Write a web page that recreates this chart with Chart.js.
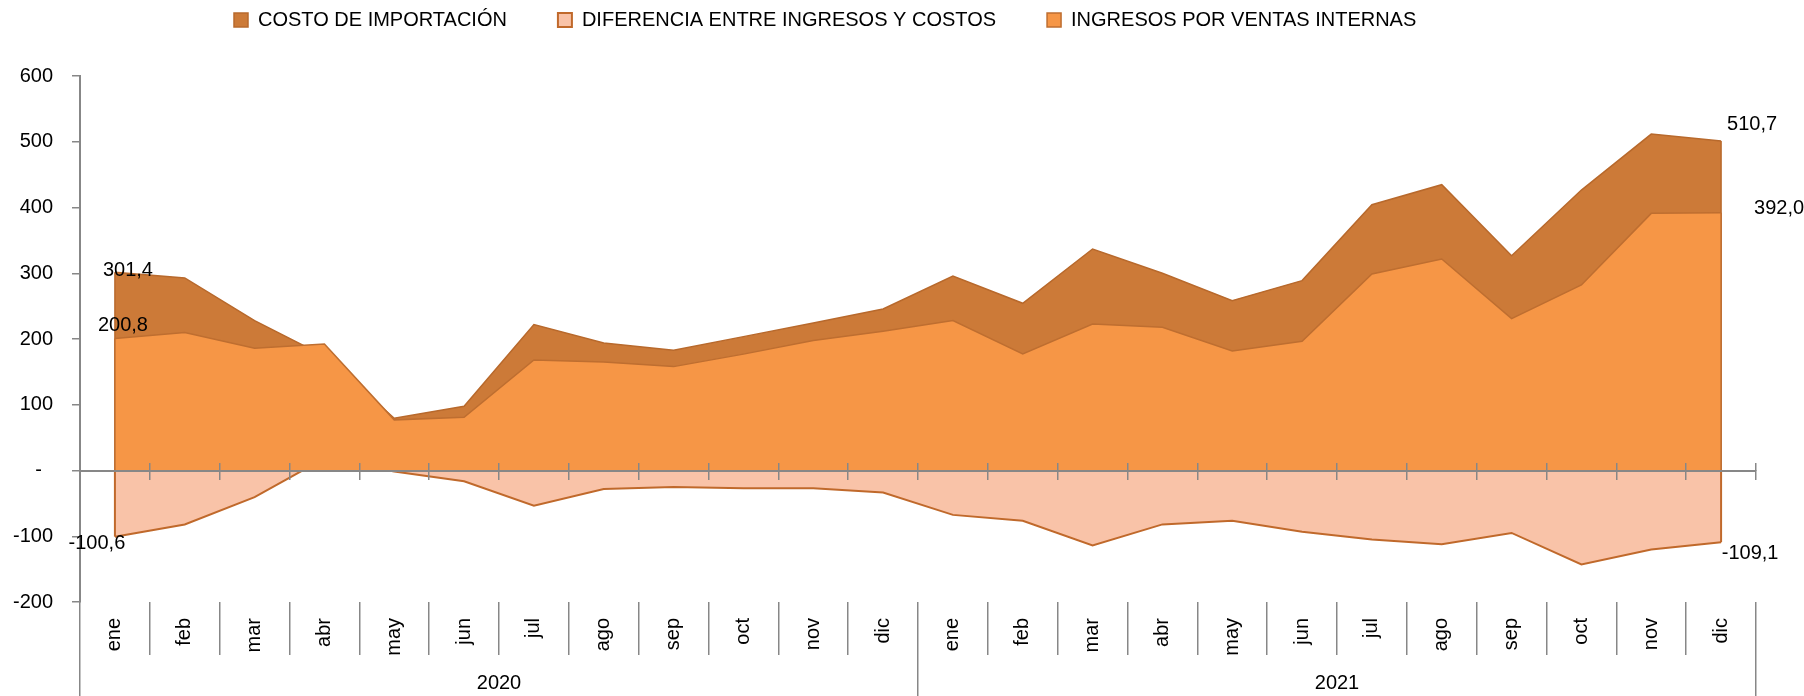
<!DOCTYPE html>
<html>
<head>
<meta charset="utf-8">
<script src="https://cdn.jsdelivr.net/npm/chart.js@4.4.1/dist/chart.umd.min.js"></script>
<style>
  html, body { margin: 0; padding: 0; background: #ffffff; }
  #wrap { width: 1804px; height: 696px; position: relative; }
  canvas { display: block; }
</style>
</head>
<body>
<div id="wrap"><canvas id="c" width="1804" height="696"></canvas></div>
<script>
// ---------- DATA ----------
const meses = ['ene','feb','mar','abr','may','jun','jul','ago','sep','oct','nov','dic'];
const categorias = meses.concat(meses);
const anios = ['2020', '2021'];

const costoImportacion = [301.4, 292.8, 228.0, 174.0, 79.5, 97.8, 222.0, 194.0, 183.0, 203.6, 224.4, 245.7,
                          295.8, 254.3, 336.9, 300.0, 258.4, 288.8, 404.3, 434.7, 326.7, 426.5, 511.7, 501.1];
const diferencia       = [-100.6, -82.0, -40.5, 18.5, -1.5, -16.5, -53.5, -28.0, -25.0, -27.0, -27.0, -33.5,
                          -67.5, -76.5, -114.0, -82.0, -76.5, -93.0, -105.0, -112.0, -95.0, -143.0, -120.0, -109.1];
const ingresosVentas   = [200.8, 209.7, 186.0, 192.5, 77.0, 81.0, 168.0, 165.0, 158.0, 177.0, 197.6, 211.8,
                          228.0, 177.3, 222.9, 217.8, 181.9, 196.6, 298.9, 321.7, 231.0, 282.2, 391.1, 392.0];

const seriesNombres = ['COSTO DE IMPORTACIÓN', 'DIFERENCIA ENTRE INGRESOS Y COSTOS', 'INGRESOS POR VENTAS INTERNAS'];
const etiquetasInicio = ['301,4', '-100,6', '200,8'];
const etiquetasFin    = ['510,7', '-109,1', '392,0'];

// ---------- STYLE ----------
const FONT = "'Liberation Sans', Arial, sans-serif";
const GRAY = '#878787';

const startOffsets = [[13, -2], [-18, 7], [8, -13]];
const endOffsets   = [[31, -17], [29, 11], [58, -4]];

const edgePlugin = {
  id: 'areaEdges',
  afterDatasetDraw(chart, args) {
    const meta = args.meta;
    const ds = chart.data.datasets[args.index];
    const pts = meta.data;
    if (!pts.length) return;
    const y0 = chart.scales.y.getPixelForValue(0);
    const ctx = chart.ctx;
    ctx.save();
    ctx.strokeStyle = ds.borderColor;
    ctx.lineWidth = ds.borderWidth;
    [pts[0], pts[pts.length - 1]].forEach(p => {
      ctx.beginPath();
      ctx.moveTo(p.x, y0);
      ctx.lineTo(p.x, p.y);
      ctx.stroke();
    });
    ctx.restore();
  }
};

const labelPlugin = {
  id: 'endLabels',
  afterDatasetsDraw(chart) {
    const ctx = chart.ctx;
    ctx.save();
    ctx.font = '20px ' + FONT;
    ctx.fillStyle = '#000';
    ctx.textAlign = 'center';
    ctx.textBaseline = 'middle';
    chart.data.datasets.forEach((ds, i) => {
      const pts = chart.getDatasetMeta(i).data;
      const a = pts[0], b = pts[pts.length - 1];
      ctx.fillText(etiquetasInicio[i], a.x + startOffsets[i][0], a.y + startOffsets[i][1]);
      ctx.fillText(etiquetasFin[i], b.x + endOffsets[i][0], b.y + endOffsets[i][1]);
    });
    ctx.restore();
  }
};

const legendPlacePlugin = {
  id: 'legendPlace',
  afterLayout(chart) {
    const lg = chart.legend;
    if (!lg) return;
    const w = lg.right - lg.left, h = lg.bottom - lg.top;
    lg.left = 183; lg.right = 183 + w;
    lg.top = -41; lg.bottom = lg.top + h;
  }
};

new Chart(document.getElementById('c'), {
  type: 'line',
  data: {
    labels: categorias,
    datasets: [
      {
        label: seriesNombres[0], data: costoImportacion, order: 2,
        backgroundColor: '#CC7A38', borderColor: '#B8692C', borderWidth: 1.5,
        fill: 'origin', pointRadius: 0, tension: 0
      },
      {
        label: seriesNombres[1], data: diferencia, order: 1,
        backgroundColor: '#F9C3A8', borderColor: '#C0692B', borderWidth: 2,
        fill: 'origin', pointRadius: 0, tension: 0
      },
      {
        label: seriesNombres[2], data: ingresosVentas, order: 0,
        backgroundColor: '#F69646', borderColor: '#BE6E30', borderWidth: 1.5,
        fill: 'origin', pointRadius: 0, tension: 0
      }
    ]
  },
  options: {
    responsive: false,
    animation: false,
    devicePixelRatio: 1,
    layout: { padding: { left: 0, right: 48, top: 0, bottom: 0 } },
    plugins: {
      tooltip: { enabled: false },
      legend: {
        display: true,
        position: 'top',
        align: 'start',
        maxHeight: 76,
        labels: {
          boxWidth: 14, boxHeight: 14, padding: 51,
          color: '#000',
          font: { family: FONT, size: 20 },
          sort: (a, b) => a.datasetIndex - b.datasetIndex
        }
      }
    },
    scales: {
      y: {
        type: 'linear', position: 'left',
        min: -200, max: 600,
        afterFit: s => { s.width = 80; },
        ticks: {
          stepSize: 100, color: '#000', padding: 19,
          font: { family: FONT, size: 20 },
          callback: v => (v === 0 ? '-  ' : String(v))
        },
        grid: { display: true, drawOnChartArea: false, drawTicks: true, tickLength: 8, color: GRAY, lineWidth: 1.5 },
        border: { display: true, color: GRAY, width: 2 }
      },
      x: {
        type: 'category', position: 'bottom', offset: true,
        afterFit: s => { s.height = 53; },
        ticks: {
          autoSkip: false, minRotation: 90, maxRotation: 90,
          color: '#000', padding: -37,
          font: { family: FONT, size: 20 }
        },
        grid: { display: true, offset: true, drawOnChartArea: false, drawTicks: true, tickLength: 53, color: GRAY, lineWidth: 1.5 },
        border: { display: false }
      },
      x2: {
        type: 'category', position: 'bottom', offset: true, labels: anios,
        afterFit: s => { s.height = 41; },
        ticks: { color: '#000', padding: -25, font: { family: FONT, size: 20 } },
        grid: { display: true, offset: true, drawOnChartArea: false, drawTicks: true, tickLength: 41, color: GRAY, lineWidth: 1.5 },
        border: { display: false }
      },
      xz: {
        type: 'category', position: { y: 0 }, offset: true,
        ticks: { display: false },
        grid: { display: true, z: 1, offset: true, drawOnChartArea: false, drawTicks: true, tickLength: 8, color: GRAY, lineWidth: 1.5 },
        border: { display: true, z: 1, color: GRAY, width: 2 }
      },
      xzUp: {
        type: 'category', position: { y: 0 }, offset: true,
        ticks: { display: false },
        grid: { display: true, z: 1, offset: true, drawOnChartArea: false, drawTicks: true, tickLength: -8, color: GRAY, lineWidth: 1.5 },
        border: { display: false }
      }
    }
  },
  plugins: [edgePlugin, labelPlugin, legendPlacePlugin]
});
</script>
</body>
</html>
